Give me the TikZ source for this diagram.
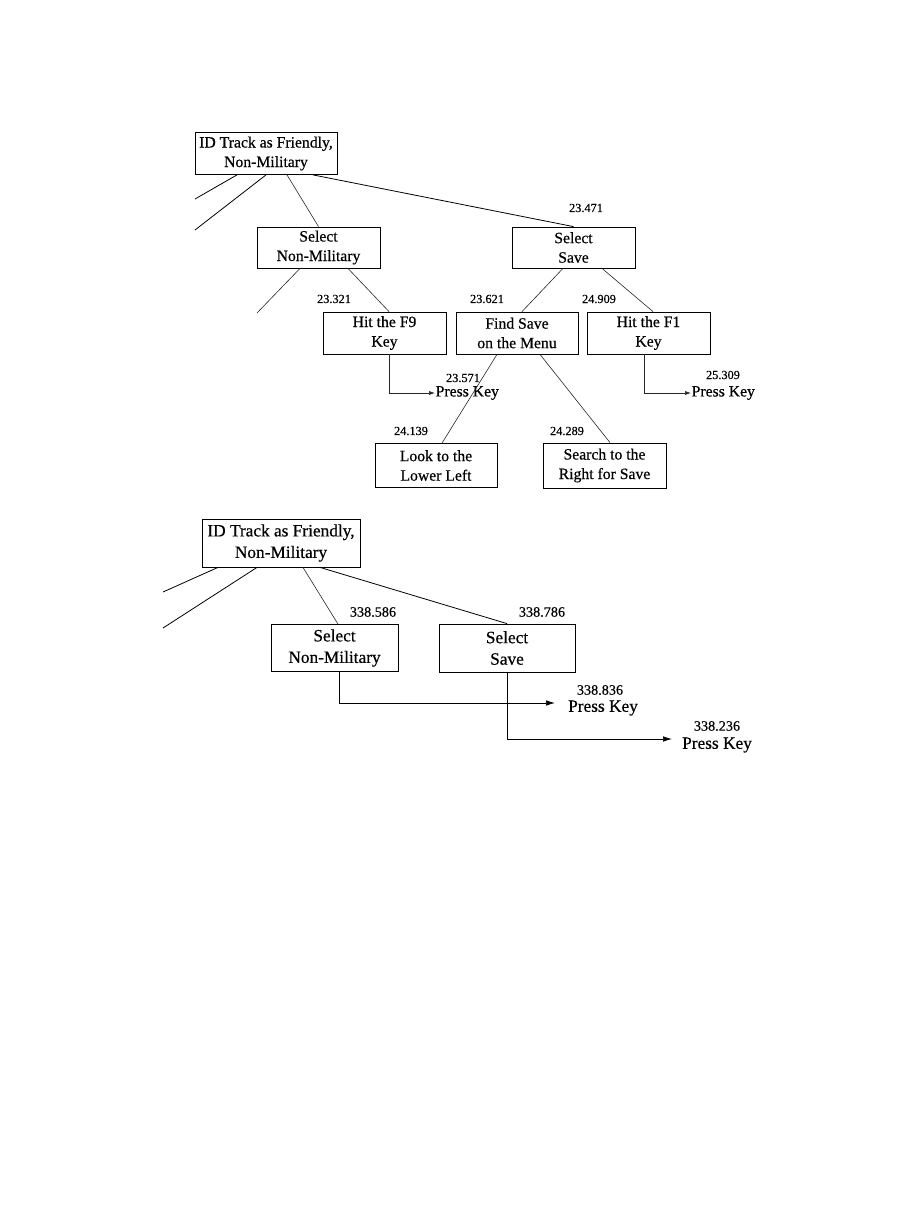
\documentclass[tikz,border=0pt]{standalone}
\usepackage{fontspec}
\setmainfont{Liberation Serif}[FakeBold=0.5]
\usetikzlibrary{arrows.meta}
\begin{document}
\begin{tikzpicture}[x=1pt,y=-1pt,
  boxA/.style={draw, line width=0.8pt, align=center, inner sep=0pt,
    font=\fontsize{15.7}{19.5}\selectfont},
  boxB/.style={draw, line width=0.8pt, align=center, inner sep=0pt,
    font=\fontsize{17.3}{21.5}\selectfont},
  numA/.style={inner sep=0pt, font=\fontsize{12.3}{14}\selectfont},
  numB/.style={inner sep=0pt, font=\fontsize{14.2}{16}\selectfont},
  pressA/.style={inner sep=0.5pt, anchor=west, font=\fontsize{15.7}{19}\selectfont},
  pressB/.style={inner ysep=0pt, anchor=west, font=\fontsize{17.3}{21}\selectfont},
  conn/.style={line width=0.6pt, black!85},
  connT/.style={line width=0.8pt, black},
  arrA/.style={conn, -{Latex[length=6pt,width=4pt]}},
  arrB/.style={line width=0.7pt, black, -{Latex[length=9pt,width=5.5pt]}}
]
\useasboundingbox (0,0) rectangle (918,1215);

% ---------- top diagram ----------
\node[boxA, minimum width=142pt, minimum height=42pt] (id1) at (266,153.5) {ID Track as Friendly,\\Non-Military};
\node[boxA, minimum width=123pt, minimum height=41pt] (nm1) at (318.5,247.5) {Select\\Non-Military};
\node[boxA, minimum width=123pt, minimum height=41pt] (ss1) at (573.5,247.5) {Select\\Save};
\node[boxA, minimum width=123pt, minimum height=42pt] (f9) at (384.5,333) {Hit the F9\\Key};
\node[boxA, minimum width=122pt, minimum height=42pt] (fs) at (517,333) {Find Save\\on the Menu};
\node[boxA, minimum width=123pt, minimum height=42pt] (f1) at (648.5,333) {Hit the F1\\Key};
\node[boxA, minimum width=122pt, minimum height=44pt] (look) at (436,465.5) {Look to the\\Lower Left};
\node[boxA, minimum width=123pt, minimum height=45pt] (search) at (604.5,465.5) {Search to the\\Right for Save};

\node[pressA] (pk1) at (435,393) {Press Key};
\node[pressA] (pk2) at (691,393) {Press Key};

\node[numA] (l1) at (586,208) {23.471};
\node[numA] (l2) at (334,299) {23.321};
\node[numA] (l3) at (487,299) {23.621};
\node[numA] (l4) at (599,299) {24.909};
\node[numA] (l5) at (463,378) {23.571};
\node[numA] (l6) at (723,375) {25.309};
\node[numA] (l7) at (411,431) {24.139};
\node[numA] (l8) at (567,431) {24.289};

\coordinate (c1) at (195,199);
\coordinate (c2) at (195,230);
\coordinate (c3) at (257,313);

\draw[connT] ([xshift=-29pt]id1.south) -- (c1);
\draw[connT] ([xshift=0pt]id1.south) -- (c2);
\draw[conn] ([xshift=21pt]id1.south) -- (nm1.north);
\draw[connT] ([xshift=47pt]id1.south) -- (ss1.north);
\draw[conn] ([xshift=-18.5pt]nm1.south) -- (c3);
\draw[conn] ([xshift=29.5pt]nm1.south) -- ([xshift=4.5pt]f9.north);
\draw[conn] ([xshift=-10.5pt]ss1.south) -- ([xshift=5pt]fs.north);
\draw[conn] ([xshift=28.5pt]ss1.south) -- ([xshift=4.5pt]f1.north);
\draw[conn] ([xshift=-20pt]fs.south) -- ([xshift=6pt]look.north);
\draw[conn] ([xshift=23pt]fs.south) -- ([xshift=5.5pt]search.north);
\draw[arrA] ([xshift=4.5pt]f9.south) |- (pk1.west);
\draw[arrA] ([xshift=-4.5pt]f1.south) |- (pk2.west);

% ---------- bottom diagram ----------
\node[boxB, minimum width=158pt, minimum height=48pt] (id2) at (281,543) {ID Track as Friendly,\\Non-Military};
\node[boxB, minimum width=127pt, minimum height=47pt] (nm2) at (334.5,648) {Select\\Non-Military};
\node[boxB, minimum width=136pt, minimum height=48pt] (ss2) at (507,648) {Select\\Save};

\node[pressB, inner xsep=13pt] (pk3) at (555,708) {Press Key};
\node[pressB, inner xsep=10pt] (pk4) at (672,745) {Press Key};

\node[numB] (m1) at (373,612) {338.586};
\node[numB] (m2) at (542,612) {338.786};
\node[numB] (m3) at (600,690) {338.836};
\node[numB] (m4) at (717,726) {338.236};

\coordinate (d1) at (163,592);
\coordinate (d2) at (163,628);

\draw[connT] ([xshift=-63pt]id2.south) -- (d1);
\draw[connT] ([xshift=-24pt]id2.south) -- (d2);
\draw[conn] ([xshift=22pt]id2.south) -- ([xshift=3.5pt]nm2.north);
\draw[connT] ([xshift=39pt]id2.south) -- (ss2.north);
\draw[arrB] ([xshift=4.5pt]nm2.south) |- ([yshift=5pt]pk3.west);
\draw[arrB] (ss2.south) |- ([yshift=6pt]pk4.west);
\end{tikzpicture}
\end{document}
